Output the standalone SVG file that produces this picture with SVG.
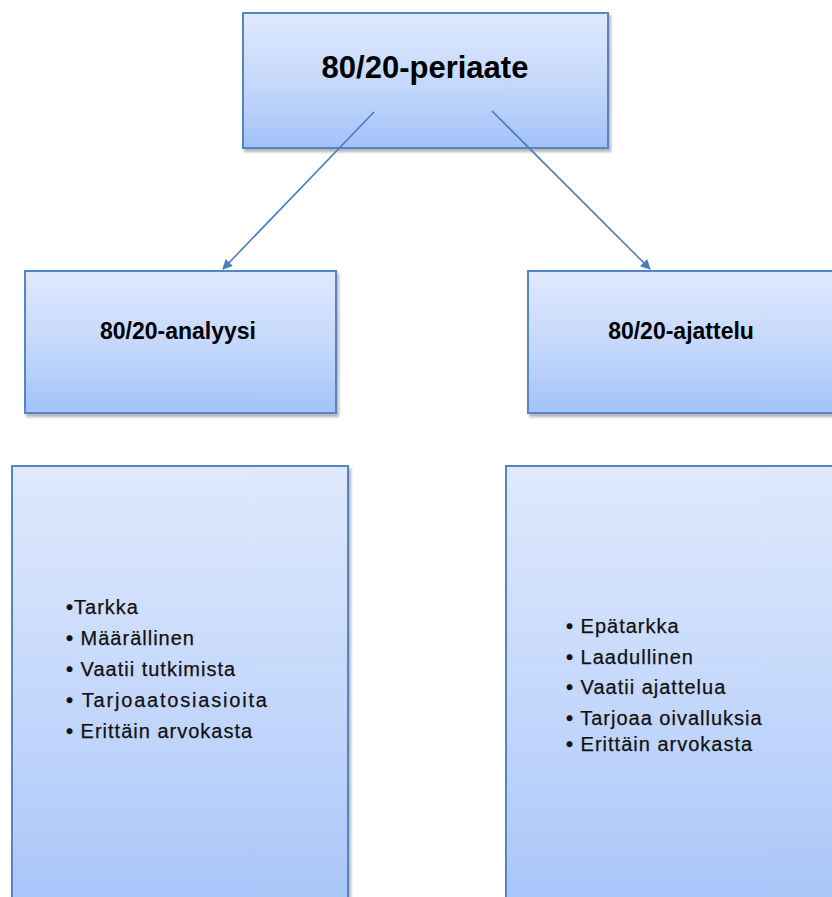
<svg xmlns="http://www.w3.org/2000/svg" width="832" height="897" viewBox="0 0 832 897">
  <defs>
    <linearGradient id="boxFill" x1="0" y1="0" x2="0" y2="1">
      <stop offset="0" stop-color="#dfe9fc"/>
      <stop offset="0.55" stop-color="#c3d7fb"/>
      <stop offset="1" stop-color="#a3c2f9"/>
    </linearGradient>
    <linearGradient id="tallFill" x1="0" y1="0" x2="0" y2="1">
      <stop offset="0" stop-color="#dfe9fc"/>
      <stop offset="0.6" stop-color="#c0d5fb"/>
      <stop offset="1" stop-color="#a6c4f9"/>
    </linearGradient>
    <filter id="shadow" x="-5%" y="-5%" width="115%" height="115%">
      <feGaussianBlur in="SourceAlpha" stdDeviation="1.5"/>
      <feOffset dx="2" dy="3" result="b"/>
      <feComponentTransfer><feFuncA type="linear" slope="0.3"/></feComponentTransfer>
      <feMerge><feMergeNode/><feMergeNode in="SourceGraphic"/></feMerge>
    </filter>
    <marker id="arrow" viewBox="0 0 10 10" refX="9" refY="5" markerWidth="11" markerHeight="10" orient="auto" markerUnits="userSpaceOnUse">
      <path d="M0,0 L10,5 L0,10 z" fill="#4a7ebb"/>
    </marker>
    <style>
      .box { stroke: #5785c3; stroke-width: 2; filter: url(#shadow); }
      .title { font-family: "Liberation Sans", Arial, sans-serif; font-weight: bold; fill: #000; text-anchor: middle; }
      .item { font-family: "Liberation Sans", Arial, sans-serif; font-size: 20px; letter-spacing: 1px; fill: #111; stroke: #111; stroke-width: 0.25; }
      .wide { letter-spacing: 1.8px; }
      .dot { font-weight: bold; }
      .conn { stroke: #4a7ebb; stroke-width: 1.6; fill: none; }
    </style>
  </defs>

  <rect width="832" height="897" fill="#ffffff"/>

  <g id="node-periaate">
    <rect class="box" x="243" y="13" width="365" height="135" fill="url(#boxFill)"/>
    <text class="title" x="425" y="78" font-size="31">80/20-periaate</text>
  </g>

  <g id="node-analyysi">
    <rect class="box" x="25" y="271" width="311" height="142" fill="url(#boxFill)"/>
    <text class="title" x="178" y="339" font-size="23">80/20-analyysi</text>
  </g>

  <g id="node-ajattelu">
    <rect class="box" x="528" y="271" width="320" height="142" fill="url(#boxFill)"/>
    <text class="title" x="681" y="339" font-size="23">80/20-ajattelu</text>
  </g>

  <g id="node-analyysi-list">
    <rect class="box" x="12" y="466" width="336" height="450" fill="url(#tallFill)"/>
    <text class="item" x="66" y="614"><tspan class="dot">•</tspan>Tarkka</text>
    <text class="item" x="66" y="645"><tspan class="dot">•</tspan> Määrällinen</text>
    <text class="item" x="66" y="676"><tspan class="dot">•</tspan> Vaatii tutkimista</text>
    <text class="item wide" x="66" y="707"><tspan class="dot">•</tspan> Tarjoaatosiasioita</text>
    <text class="item" x="66" y="738"><tspan class="dot">•</tspan> Erittäin arvokasta</text>
  </g>

  <g id="node-ajattelu-list">
    <rect class="box" x="506" y="466" width="340" height="450" fill="url(#tallFill)"/>
    <text class="item" x="566" y="633"><tspan class="dot">•</tspan> Epätarkka</text>
    <text class="item" x="566" y="664"><tspan class="dot">•</tspan> Laadullinen</text>
    <text class="item" x="566" y="694"><tspan class="dot">•</tspan> Vaatii ajattelua</text>
    <text class="item" x="566" y="725"><tspan class="dot">•</tspan> Tarjoaa oivalluksia</text>
    <text class="item" x="566" y="751"><tspan class="dot">•</tspan> Erittäin arvokasta</text>
  </g>

  <g id="connectors">
    <line class="conn" x1="374" y1="112" x2="223" y2="269" marker-end="url(#arrow)"/>
    <line class="conn" x1="492" y1="111" x2="650" y2="269" marker-end="url(#arrow)"/>
  </g>
</svg>
